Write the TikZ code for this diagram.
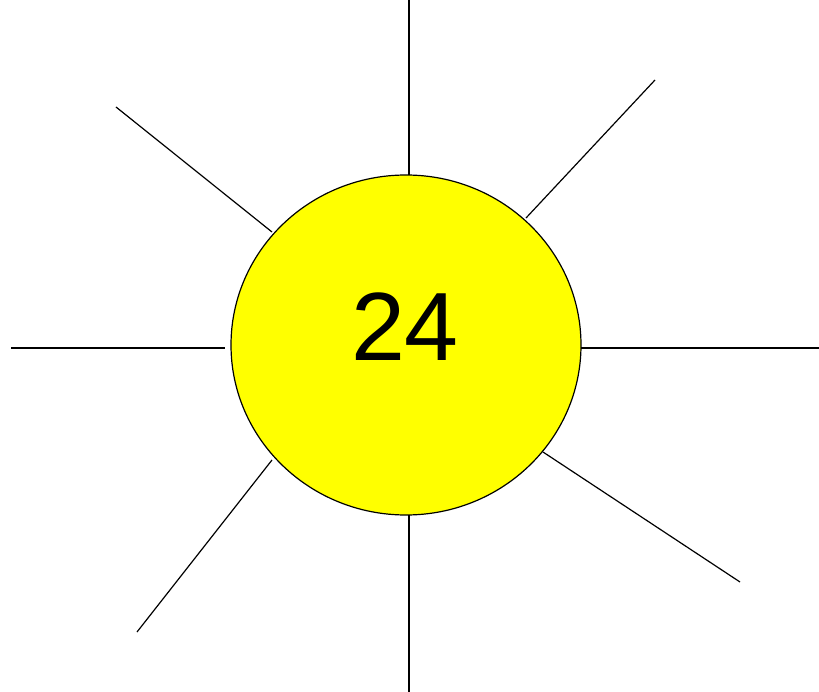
\documentclass[tikz,border=0pt]{standalone}
\usepackage{fontspec}
\setmainfont{Liberation Sans}
\usetikzlibrary{shapes.geometric}
\definecolor{sunyellow}{RGB}{255,255,0}
\begin{document}
\begin{tikzpicture}[x=1pt,y=-1pt,
  ray/.style={draw=black,line width=1.2pt},
  sunbody/.style={ellipse,draw=black,line width=1.2pt,fill=sunyellow,minimum width=350pt,minimum height=340pt,inner sep=0pt}]
\useasboundingbox (0,0) rectangle (819,692);
\fill[white] (0,0) rectangle (819,692);
\node[sunbody] (sun) at (406,345) {};
\node[font=\fontsize{97}{104}\selectfont,anchor=center] (num) at (405,327) {24};
\coordinate (t1) at (409,0);   \coordinate (t2) at (409,175);
\coordinate (tr1) at (655,80); \coordinate (tr2) at (526,218);
\coordinate (tl1) at (116,107);\coordinate (tl2) at (272,232);
\coordinate (l1) at (11,348);  \coordinate (l2) at (225,348);
\coordinate (r1) at (819,348); \coordinate (r2) at (581,348);
\coordinate (bl1) at (137,632);\coordinate (bl2) at (272,460);
\coordinate (b1) at (409,692); \coordinate (b2) at (409,515);
\coordinate (br1) at (740,582);\coordinate (br2) at (543,452);
\draw[ray] (t1) -- (t2);
\draw[ray] (tr1) -- (tr2);
\draw[ray] (tl1) -- (tl2);
\draw[ray] (l1) -- (l2);
\draw[ray] (r1) -- (r2);
\draw[ray] (bl1) -- (bl2);
\draw[ray] (b1) -- (b2);
\draw[ray] (br1) -- (br2);
\end{tikzpicture}
\end{document}
